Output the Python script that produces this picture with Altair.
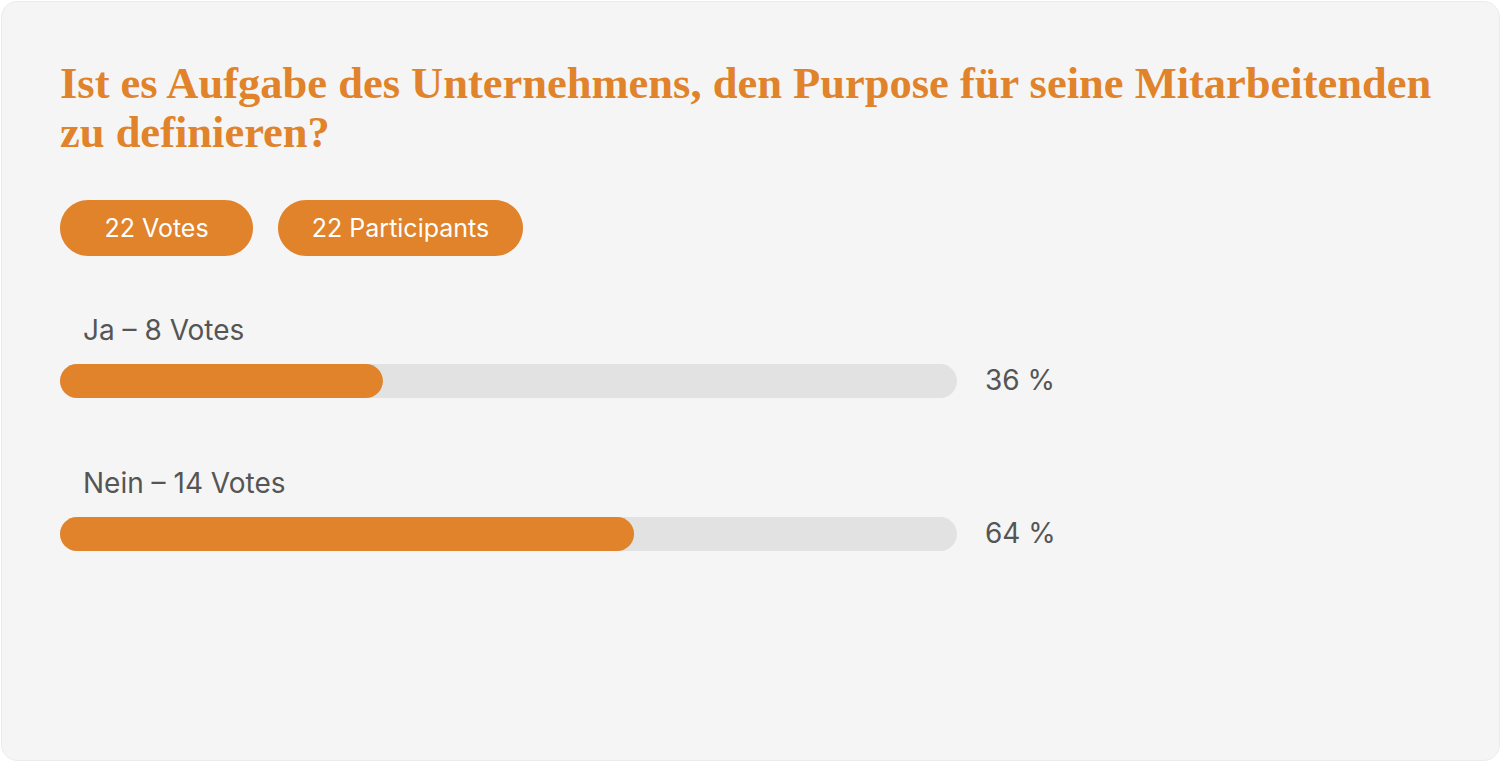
import altair as alt
import pandas as pd

# Poll content
question = [
    "Ist es Aufgabe des Unternehmens, den Purpose für seine Mitarbeitenden",
    "zu definieren?",
]
options = ["Ja", "Nein"]
votes = [8, 14]
percents = [36, 64]
chips = ["22 Votes", "22 Participants"]

ORANGE = "#E0832A"
TRACK = "#E2E2E2"
INK = "#555555"
CARD = "#F5F5F5"
SANS = "Inter"
SERIF = "Liberation Serif"

df = pd.DataFrame({
    "option": options,
    "votes": votes,
    "pct": percents,
    "full": [100] * len(options),
})
df["label"] = [f"{o} – {v} Votes" for o, v in zip(options, votes)]
df["pct_label"] = [f"{p} %" for p in percents]

x = alt.Scale(domain=[0, 100], range=[59, 956])
y = alt.Scale(domain=options, range=[380, 533], type="point", padding=0)

base = alt.Chart(df)

track = base.mark_bar(color=TRACK, height=34, cornerRadius=17).encode(
    x=alt.X("zero:Q", scale=x, axis=None),
    x2="full:Q",
    y=alt.Y("option:N", scale=y, axis=None),
).transform_calculate(zero="0")

fill = base.mark_bar(color=ORANGE, height=34, cornerRadius=17).encode(
    x=alt.X("zero:Q", scale=x, axis=None),
    x2="pct:Q",
    y=alt.Y("option:N", scale=y, axis=None),
).transform_calculate(zero="0")

labels = base.mark_text(
    align="left", baseline="alphabetic", dy=-41, font=SANS, fontSize=28,
    color=INK,
).encode(
    x=alt.value(82),
    y=alt.Y("option:N", scale=y, axis=None),
    text="label:N",
)

pct_text = base.mark_text(
    align="left", baseline="middle", dy=1, font=SANS, fontSize=28,
    color=INK,
).encode(
    x=alt.value(984),
    y=alt.Y("option:N", scale=y, axis=None),
    text="pct_label:N",
)

title = alt.Chart(pd.DataFrame({"k": [0]})).mark_text(
    text=question, align="left", baseline="alphabetic", font=SERIF,
    fontWeight="bold", fontSize=44.5, lineHeight=49, color=ORANGE,
).encode(x=alt.value(59), y=alt.value(97))

# header chips: (left, right) edges of each pill
chip_edges = [(59, 252), (277, 522)]
chip_layers = []
for label, (left, right) in zip(chips, chip_edges):
    chip_df = pd.DataFrame({"chip": [label]})
    chip_layers.append(
        alt.Chart(chip_df).mark_rect(color=ORANGE, cornerRadius=28).encode(
            x=alt.value(left), x2=alt.value(right),
            y=alt.value(199), y2=alt.value(255),
        )
    )
    chip_layers.append(
        alt.Chart(chip_df).mark_text(
            align="center", baseline="middle", font=SANS, fontSize=25,
            color="white",
        ).encode(
            x=alt.value((left + right) / 2), y=alt.value(228), text="chip:N",
        )
    )

chart = alt.layer(
    title, *chip_layers, track, fill, labels, pct_text
).properties(
    width=1498, height=759,
    padding={"left": 1, "top": 1, "right": 1, "bottom": 1},
    autosize=alt.AutoSizeParams(type="none"),
    background="white",
).configure_view(
    fill=CARD, stroke="#EBEBEB", strokeWidth=1, cornerRadius=16,
)

chart.save("out.html", embed_options={"renderer": "svg", "actions": False})
